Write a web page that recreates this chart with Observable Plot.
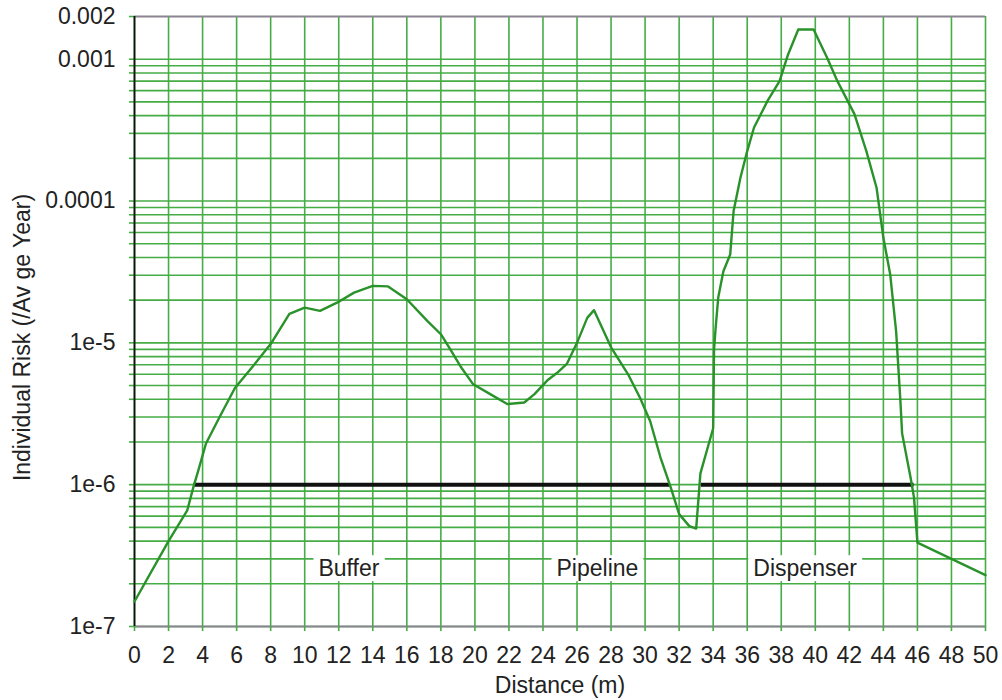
<!DOCTYPE html>
<html>
<head>
<meta charset="utf-8">
<script src="https://cdn.jsdelivr.net/npm/d3@7"></script>
<script src="https://cdn.jsdelivr.net/npm/@observablehq/plot@0.6"></script>
<style>
  html, body { margin: 0; padding: 0; background: #fff; }
  #chart { width: 1002px; height: 700px; }
</style>
</head>
<body>
<div id="chart"></div>
<script>
// ---- data ----
const distance = [0, 2, 3.1, 3.5, 3.7, 4.2, 5, 5.9, 6.9, 8, 9.1, 10, 10.9, 11.9, 12.9, 14, 14.9, 16, 17.2, 18,
  18.6, 19.2, 19.9, 20.9, 21.9, 22.9, 23.5, 24.3, 24.8, 25.4, 26, 26.6, 27, 28, 29, 29.7, 30.3, 30.9, 31.5, 32,
  32.6, 33, 33.25, 34, 34.05, 34.15, 34.3, 34.6, 35, 35.2, 35.6, 36, 36.4, 37.2, 37.9, 38.4, 39, 39.9, 40.7, 41.3,
  42.3, 43, 43.6, 44, 44.4, 44.75, 45, 45.1, 45.6, 45.8, 46, 50];
const risk = [1.5e-7, 4.0e-7, 6.6e-7, 1.0e-6, 1.2e-6, 1.95e-6, 3.0e-6, 4.8e-6, 6.7e-6, 9.8e-6, 1.6e-5, 1.77e-5, 1.68e-5, 1.92e-5, 2.26e-5, 2.52e-5, 2.5e-5, 2.03e-5, 1.43e-5, 1.15e-5,
  8.8e-6, 6.7e-6, 5.1e-6, 4.35e-6, 3.7e-6, 3.8e-6, 4.35e-6, 5.5e-6, 6.1e-6, 7.1e-6, 1.0e-5, 1.5e-5, 1.7e-5, 9.3e-6, 6.0e-6, 4.1e-6, 2.8e-6, 1.56e-6, 9.6e-7, 6.2e-7,
  5.1e-7, 4.9e-7, 1.2e-6, 2.5e-6, 9e-6, 1.3e-5, 2.1e-5, 3.2e-5, 4.2e-5, 8.5e-5, 1.46e-4, 2.25e-4, 3.3e-4, 5.1e-4, 7.0e-4, 1.08e-3, 1.62e-3, 1.62e-3, 1.02e-3, 7.0e-4,
  4.1e-4, 2.25e-4, 1.24e-4, 5.5e-5, 3.05e-5, 1.2e-5, 3.9e-6, 2.3e-6, 1.12e-6, 8.1e-7, 3.9e-7, 2.3e-7];

const criterion = 1e-6;
const criterionStart = [3.5, 33.3];
const criterionEnd = [31.5, 45.8];

const zoneNames = ["Buffer", "Pipeline", "Dispenser"];
const zoneX = [12.6, 27.2, 39.4];
const zoneY = [2.55e-7, 2.55e-7, 2.55e-7];

const xTicks = [0, 2, 4, 6, 8, 10, 12, 14, 16, 18, 20, 22, 24, 26, 28, 30, 32, 34, 36, 38, 40, 42, 44, 46, 48, 50];
const yLabelValues = [1e-7, 1e-6, 1e-5, 1e-4, 1e-3, 2e-3];
const yLabelTexts = ["1e-7", "1e-6", "1e-5", "0.0001", "0.001", "0.002"];
const yDecades = [1e-7, 1e-6, 1e-5, 1e-4];
const yMultipliers = [1, 2, 3, 4, 5, 6, 7, 8, 9];

const xTitle = "Distance (m)";
const yTitle = "Individual Risk (/Av ge Year)";

// ---- build tables ----
const curve = distance.map((d, i) => ({distance: d, risk: risk[i]}));
const segments = criterionStart.map((s, i) => ({start: s, end: criterionEnd[i]}));
const zones = zoneNames.map((n, i) => ({name: n, x: zoneX[i], y: zoneY[i]}));
const yGrid = [];
for (const dec of yDecades) for (const m of yMultipliers) yGrid.push(m * dec);
yGrid.push(1e-3);
const yTickAll = yGrid.concat([2e-3]);
const yLabelMap = new Map(yLabelValues.map((v, i) => [v.toPrecision(3), yLabelTexts[i]]));

const GRID = "#46ad46";
const LINE = "#2a922a";
const FONT = "'Liberation Sans', Arial, Helvetica, sans-serif";
const FS = 23;

const chart = Plot.plot({
  width: 1002,
  height: 700,
  marginLeft: 134,
  marginRight: 17,
  marginTop: 16,
  marginBottom: 74,
  style: {fontFamily: FONT, fontSize: FS + "px", background: "#fff", color: "#222"},
  x: {domain: [0, 50]},
  y: {type: "log", domain: [1e-7, 2e-3]},
  marks: [
    Plot.gridX(xTicks, {stroke: GRID, strokeOpacity: 1, strokeWidth: 1.6}),
    Plot.gridY(yGrid, {stroke: GRID, strokeOpacity: 1, strokeWidth: 1.6}),
    Plot.ruleY([1e-7, 2e-3], {stroke: "#8a8590", strokeWidth: 1.8}),
    Plot.axisX(xTicks, {tickSize: 5, tickPadding: 15, stroke: GRID, strokeWidth: 1.6, fill: "#222",
      fontSize: FS, label: null, tickFormat: d => String(d)}),
    Plot.axisY(yTickAll, {tickSize: 5, tickPadding: 14, stroke: GRID, strokeWidth: 1.6, fill: "#222",
      fontSize: FS, label: null, tickFormat: d => yLabelMap.get(d.toPrecision(3)) ?? ""}),
    Plot.ruleX([0], {stroke: "#111", strokeWidth: 1.8}),
    Plot.text(zones, {x: "x", y: "y", text: "name", fontSize: FS, fill: "#222", className: "zone-label"}),
    Plot.ruleY(segments, {y: () => criterion, x1: "start", x2: "end", stroke: "#111", strokeWidth: 4}),
    Plot.line(curve, {x: "distance", y: "risk", stroke: LINE, strokeWidth: 2.4, strokeLinejoin: "round"}),
    Plot.text([xTitle], {frameAnchor: "bottom", dy: 66, fontSize: FS, fill: "#222"}),
    Plot.text([yTitle], {frameAnchor: "left", textAnchor: "middle", rotate: -90, dx: -112, dy: 16, fontSize: FS, fill: "#222"})
  ]
});

document.getElementById("chart").appendChild(chart);

// white boxes behind zone labels (sized from the rendered text)
chart.querySelectorAll(".zone-label text").forEach(t => {
  const b = t.getBBox();
  const r = document.createElementNS("http://www.w3.org/2000/svg", "rect");
  r.setAttribute("x", b.x - 5);
  r.setAttribute("y", b.y);
  r.setAttribute("width", b.width + 10);
  r.setAttribute("height", b.height);
  r.setAttribute("fill", "#fff");
  const tr = t.getAttribute("transform");
  if (tr) r.setAttribute("transform", tr);
  t.parentNode.insertBefore(r, t);
});
</script>
</body>
</html>
